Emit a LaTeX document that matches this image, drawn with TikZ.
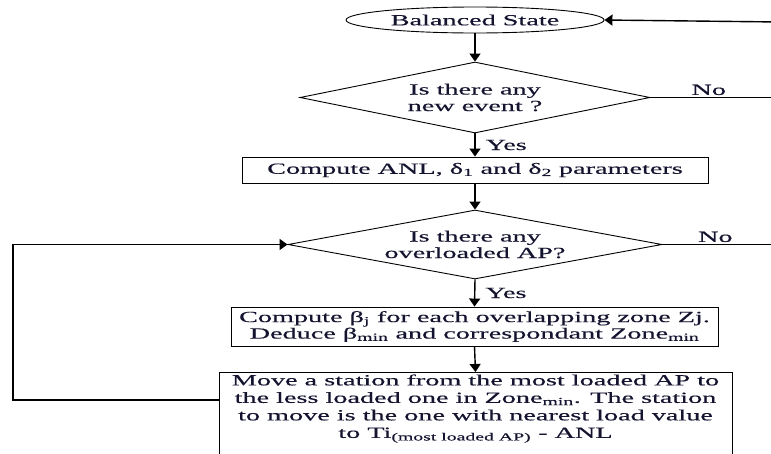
\documentclass[tikz,border=0pt]{standalone}
\usepackage{fontspec}
\setmainfont{Liberation Serif}[FakeStretch=1.82,FakeBold=0.4]
\usetikzlibrary{shapes.geometric,arrows.meta}
\definecolor{ink}{HTML}{141430}
\begin{document}
\begin{tikzpicture}[x=1pt,y=-1pt,
  every node/.style={font=\fontsize{15.5}{16.5}\selectfont, text=ink},
  shp/.style={draw=black, line width=0.9pt},
  arr/.style={draw=black, line width=1.4pt, -{Triangle[length=8pt,width=11pt]}},
  ln/.style={draw=black, line width=0.9pt},
  lab/.style={inner sep=2pt}]
\clip (0,0) rectangle (771,453);
\node[shp, ellipse, minimum width=258pt, minimum height=26pt, inner sep=0pt] (bs) at (475,20) {Balanced State};
\node[shp, diamond, aspect=4.86, minimum width=350pt, minimum height=71pt, inner sep=0pt, align=center] (d1) at (475,97.5) {Is there any\\new event ?};
\node[shp, rectangle, minimum width=466pt, minimum height=26pt, inner sep=0pt] (b1) at (475,170) {Compute ANL, δ\textsubscript{1} and δ\textsubscript{2} parameters};
\node[shp, diamond, aspect=5.4, minimum width=374pt, minimum height=69pt, inner sep=0pt, align=center] (d2) at (475,244.5) {Is there any\\overloaded AP?};
\node[shp, rectangle, minimum width=487pt, minimum height=39pt, inner sep=0pt, align=center] (b2) at (474.5,326.5) {Compute β\textsubscript{j} for each overlapping zone Zj.\\Deduce β\textsubscript{min} and correspondant Zone\textsubscript{min}};
\node[shp, rectangle, anchor=north, minimum width=513pt, inner xsep=0pt, inner ysep=2pt, text depth=90pt, align=center, font=\fontsize{15.5}{17.5}\selectfont] (b3) at (475.5,372) {Move a station from the most loaded AP to\\the less loaded one in Zone\textsubscript{min}. The station\\to move is the one with nearest load value\\to Ti\textsubscript{(most loaded AP)} - ANL};
\coordinate (r0) at (780,22);
\coordinate (r1) at (780,97.5);
\coordinate (r2) at (780,244.5);
\coordinate (l1) at (13,400);
\coordinate (l2) at (13,244.5);
\draw[arr] (r0) -- (bs.east);
\draw[arr] (bs.south) -- (d1.north);
\draw[ln] (d1.east) -- node[above, lab, pos=0.45] {No} (r1);
\draw[arr] (d1.south) -- node[right, lab, xshift=8pt] {Yes} (b1.north);
\draw[arr] (b1.south) -- (d2.north);
\draw[ln] (d2.east) -- node[above, lab, pos=0.45] {No} (r2);
\draw[arr] (d2.south) -- node[right, lab, xshift=8pt] {Yes} (b2.north);
\draw[arr] (b2.south) -- (b3.north);
\draw[arr] (b3.north west |- l1) -- (l1) -- (l2) -- (d2.west);
\end{tikzpicture}
\end{document}
